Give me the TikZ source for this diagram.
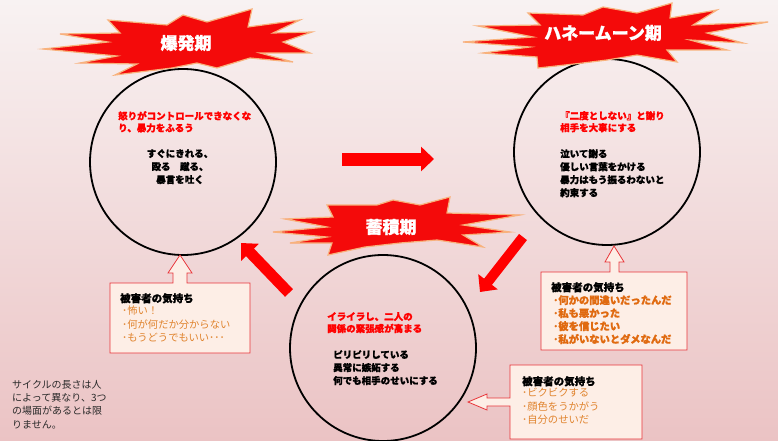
\documentclass[tikz,border=0pt]{standalone}
\usepackage{fontspec}
\setmainfont{Noto Sans CJK JP}[BoldFeatures={FakeBold=1.2}]
\usetikzlibrary{arrows.meta}
\definecolor{bgtop}{HTML}{F8F2F2}
\definecolor{bgmid}{HTML}{E5B9BC}
\definecolor{bgbot}{HTML}{EBC3C4}
\definecolor{boomred}{HTML}{F40A0A}
\definecolor{boomedge}{HTML}{F8B27C}
\definecolor{calfill}{HTML}{FDEEE6}
\definecolor{caledge}{HTML}{E8353A}
\definecolor{feel}{HTML}{E0832D}
\definecolor{feelb}{HTML}{E06A10}
\definecolor{notegray}{HTML}{2A2A2A}
\tikzset{
  boomstyle/.style={fill=boomred, draw=boomedge, line width=1.2pt, line join=miter},
  ring/.style={circle, draw=black, line width=1.8pt, minimum size=186pt, inner sep=0pt},
  boomlabel/.style={font=\bfseries\fontsize{17}{17}\selectfont, text=white, inner sep=0pt},
  redtxt/.style={font=\bfseries\fontsize{9.5}{12}\selectfont, text=red, align=left, inner sep=0pt, anchor=north west},
  blktxt/.style={font=\bfseries\fontsize{9.5}{13}\selectfont, text=black, align=left, inner sep=0pt, anchor=north west},
  fatarrow/.style={draw=red, line width=#1, -{Triangle[length=13pt,width=24pt]}},
  callout/.style={fill=calfill, draw=caledge, line width=0.8pt},
  feeltitle/.style={font=\bfseries\fontsize{10.5}{13.5}\selectfont, text=black, inner sep=0pt, anchor=north west},
  feeltxt/.style={font=\fontsize{10.3}{13.5}\selectfont, text=feel, align=left, inner sep=0pt, anchor=north west},
  feeltxtb/.style={font=\bfseries\fontsize{10.3}{13}\selectfont, text=feelb, align=left, inner sep=0pt, anchor=north west},
}
\begin{document}
\begin{tikzpicture}[x=1pt,y=-1pt]
\useasboundingbox (0,0) rectangle (778,441);
\shade[top color=bgtop, middle color=bgmid, bottom color=bgbot] (0,0) rectangle (778,441);

% circles
\node[ring] (c1) at (183,162) {};
\node[ring] (c2) at (607,152) {};
\node[ring] (c3) at (383,348) {};

% explosions
\filldraw[boomstyle] (43,49) -- (108,42) -- (60,34) -- (120,33) -- (108,20) -- (167,25) --
  (183,15) -- (207,22) -- (252,9) -- (248,27) -- (300,20) -- (273,33) -- (312,32) --
  (283,42) -- (310,53) -- (260,53) -- (293,62) -- (250,58) -- (217,68) -- (197,63) --
  (172,68) -- (115,75) -- (137,64) -- (80,63) -- (117,56) -- cycle;
\filldraw[boomstyle] (463,42) -- (533,37) -- (478,26) -- (540,25) -- (528,13) -- (583,15) --
  (603,7) -- (637,13) -- (672,3) -- (670,18) -- (717,10) -- (693,25) -- (768,22) --
  (707,33) -- (743,43) -- (690,40) -- (727,50) -- (667,50) -- (677,62) -- (637,55) --
  (607,60) -- (583,63) -- (538,68) -- (537,57) -- (483,53) -- (530,47) -- cycle;
\filldraw[boomstyle] (273,232) -- (327,227) -- (285,219) -- (333,217) -- (327,205) -- (377,205) --
  (393,200) -- (420,205) -- (450,197) -- (447,213) -- (520,215) -- (463,225) -- (510,232) --
  (463,235) -- (483,247) -- (437,240) -- (400,243) -- (365,247) -- (328,255) -- (332,243) --
  (290,243) -- (327,237) -- cycle;
\node[boomlabel] (b1) at (186,43) {爆発期};
\node[boomlabel] (b2) at (603,33) {ハネームーン期};
\node[boomlabel] (b3) at (391,227) {蓄積期};

% circle texts
\node[redtxt] (t1r) at (118,111) {怒りがコントロールできなくな\\り、暴力をふるう};
\node[blktxt, align=center, anchor=north] (t1b) at (180,149) {すぐにきれる、\\殴る　蹴る、\\暴言を吐く};
\node[redtxt] (t2r) at (560,111) {『二度としない』と謝り\\相手を大事にする};
\node[blktxt] (t2b) at (560,149) {泣いて謝る\\優しい言葉をかける\\暴力はもう振るわないと\\約束する};
\node[redtxt] (t3r) at (327,312) {イライラし、二人の\\関係の緊張感が高まる};
\node[blktxt] (t3b) at (333,350) {ピリピリしている\\異常に嫉妬する\\何でも相手のせいにする};

% red cycle arrows
\coordinate (m1) at (342,159); \coordinate (m2) at (434,159);
\coordinate (r1) at (523,237); \coordinate (r2) at (480,292);
\coordinate (l1) at (289,293); \coordinate (l2) at (241,243);
\draw[fatarrow=13pt] (m1) -- (m2);
\draw[fatarrow=10pt] (r1) -- (r2);
\draw[fatarrow=11pt] (l1) -- (l2);

% callouts
\draw[callout] (110,283) -- (173,283) -- (173,273) -- (168,273) -- (180,255) -- (192,273) -- (187,273) -- (187,283) -- (250,283) -- (250,353) -- (110,353) -- cycle;
\node[feeltitle] (f1t) at (120,293) {被害者の気持ち};
\node[feeltxt] (f1) at (122,306) {･怖い！\\･何が何だか分からない\\･もうどうでもいい･･･};

\draw[callout] (541,272) -- (610,272) -- (610,262) -- (605,262) -- (614,246) -- (624,262) -- (619,262) -- (619,272) -- (687,272) -- (687,350) -- (541,350) -- cycle;
\node[feeltitle] (f2t) at (551,282) {被害者の気持ち};
\node[feeltxtb] (f2) at (553,295) {･何かの間違いだったんだ\\･私も悪かった\\･彼を信じたい\\･私がいないとダメなんだ};

\draw[callout] (510,365) -- (642,365) -- (642,439) -- (510,439) -- (510,406) -- (487,406) -- (487,410) -- (468,402) -- (487,394) -- (487,398) -- (510,398) -- cycle;
\node[feeltitle] (f3t) at (522,376) {被害者の気持ち};
\node[feeltxt] (f3) at (522,388) {･ビクビクする\\･顔色をうかがう\\･自分のせいだ};

% note
\node[font=\fontsize{10}{13.3}\selectfont, text=notegray, align=left, inner sep=0pt, anchor=north west] (note) at (12,380) {サイクルの長さは人\\によって異なり、3つ\\の場面があるとは限\\りません。};
\end{tikzpicture}
\end{document}
